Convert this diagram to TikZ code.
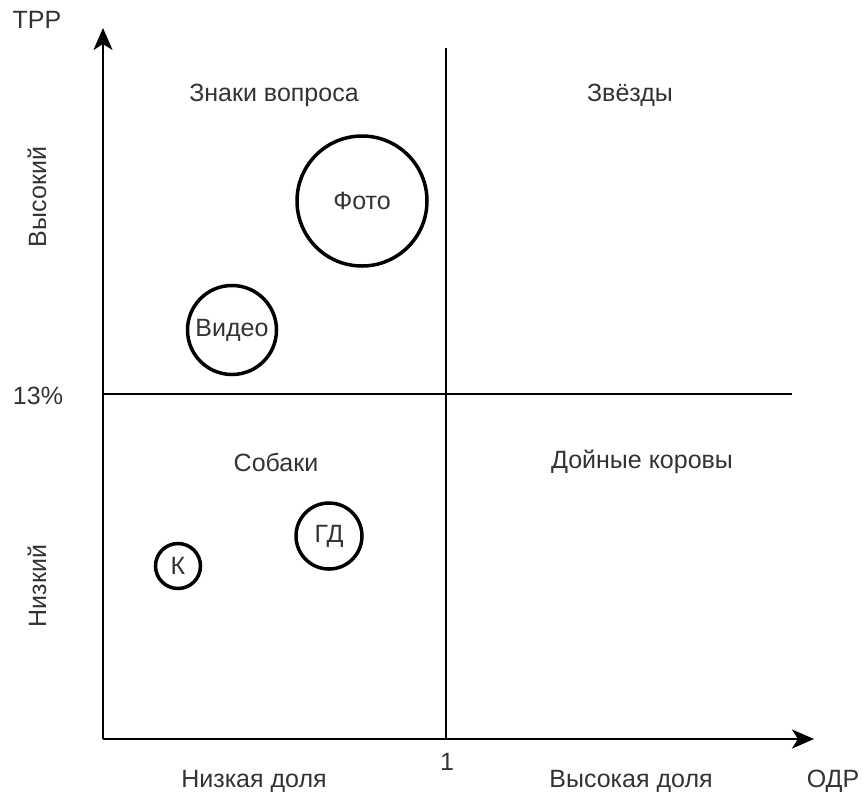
\documentclass[tikz,border=0pt]{standalone}
\usepackage{fontspec}
\setmainfont{Liberation Sans}
\usetikzlibrary{arrows.meta}
\definecolor{labelgray}{HTML}{333333}
\tikzset{
	lbl/.style = {text = labelgray, font = \fontsize{25}{30}\selectfont, inner sep = 0pt},
	prod/.style = {draw, circle, line width = 3.5pt, inner sep = 0pt, text = labelgray, font = \fontsize{25}{30}\selectfont},
	axis/.style = {line width = 2.5pt, -{Stealth[length = 22pt, width = 19pt, inset = 6pt]}},
	split/.style = {line width = 2.5pt}
}
\begin{document}
\begin{tikzpicture}[x = 1pt, y = -1pt]
			\useasboundingbox (0,0) rectangle (862,796);
			%axis
			\coordinate (O) at (103,739);
			\coordinate (ytop) at (103,28);
			\coordinate (xend) at (814,739);
			\draw[axis] (O) -- (ytop);
			\draw[axis] (O) -- (xend);
			%quadrant lines
			\coordinate (vtop) at (446,48);
			\coordinate (vbot) at (446,739);
			\coordinate (hleft) at (103,394);
			\coordinate (hright) at (792,394);
			\draw[split] (vtop) -- (vbot);
			\draw[split] (hleft) -- (hright);
			%axis labels
			\node[lbl] (trr) at (37,20) {ТРР};
			\node[lbl] (odr) at (833,781) {ОДР};
			\node[lbl] (pct) at (38,396) {13\%};
			\node[lbl] (one) at (447,762) {1};
			\node[lbl] (lowshare) at (254,781) {Низкая доля};
			\node[lbl] (highshare) at (631,781) {Высокая доля};
			\node[lbl, rotate = 90] (high) at (37,197) {Высокий};
			\node[lbl, rotate = 90] (low) at (37,586) {Низкий};
			%quadrant names
			\node[lbl] (question) at (274,95) {Знаки вопроса};
			\node[lbl] (stars) at (630,95) {Звёзды};
			\node[lbl] (dogs) at (276,462) {Собаки};
			\node[lbl] (cows) at (642,462) {Дойные коровы};
			%products
			\node[prod, minimum size = 130pt] (foto) at (362,201) {Фото};
			\node[prod, minimum size = 89pt] (video) at (232,330) {Видео};
			\node[prod, minimum size = 66pt] (gd) at (329,536) {ГД};
			\node[prod, minimum size = 45pt] (k) at (178,566) {К};
		\end{tikzpicture}
\end{document}
